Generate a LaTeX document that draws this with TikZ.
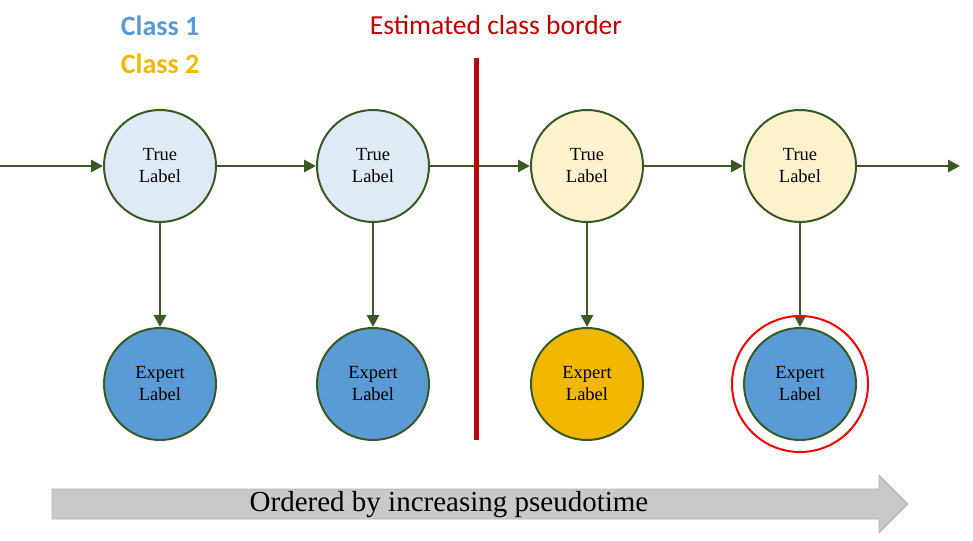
\documentclass[tikz,border=0pt]{standalone}
\usepackage{fontspec}
\setmainfont{Liberation Serif}
\newfontfamily\calibri{Carlito}
\usetikzlibrary{arrows.meta}
\definecolor{linkgreen}{HTML}{3A5A25}
\definecolor{lightblue}{HTML}{DEEBF7}
\definecolor{lightyellow}{HTML}{FFF2CC}
\definecolor{classblue}{HTML}{5B9BD5}
\definecolor{classyellow}{HTML}{F2B800}
\definecolor{borderred}{HTML}{C00000}
\tikzset{
  labelnode/.style={circle, draw=linkgreen, line width=2pt, minimum size=112pt, inner sep=0pt, align=center, font=\fontsize{18.5}{22}\selectfont},
  link/.style={->, draw=linkgreen, line width=2.8pt},
}
\begin{document}
\begin{tikzpicture}[x=1pt, y=-1pt, line join=round, >={Triangle[length=12pt,width=12pt]}]
			\useasboundingbox (0,0) rectangle (973,540);
			% legend and border label
			\node[font=\calibri\bfseries\fontsize{28}{30}\selectfont, text=classblue] (class1) at (160,26) {Class 1};
			\node[font=\calibri\bfseries\fontsize{28}{30}\selectfont, text=classyellow] (class2) at (160,64) {Class 2};
			\node[font=\calibri\fontsize{27.5}{30}\selectfont, text=borderred] (borderlbl) at (496,25) {Estimated class border};
			% true and expert labels
			\foreach \i/\x/\tcol/\ecol in {1/160/lightblue/classblue, 2/373/lightblue/classblue, 3/587/lightyellow/classyellow, 4/800/lightyellow/classblue} {
				\node[labelnode, fill=\tcol] (t\i) at (\x,166) {True\\Label};
				\node[labelnode, fill=\ecol] (e\i) at (\x,384) {Expert\\Label};
				\draw[link] (t\i) -- (e\i);
			}
			\coordinate (start) at (0,166);
			\coordinate (end) at (960,166);
			\draw[link] (start) -- (t1);
			\draw[link] (t1) -- (t2);
			\draw[link] (t2) -- (t3);
			\draw[link] (t3) -- (t4);
			\draw[link] (t4) -- (end);
			% class border and outlier ring
			\draw[borderred, line width=5pt] (476,58) -- (476,440);
			\draw[red, line width=2pt] (e4.center) circle (68pt);
			% pseudotime arrow
			\draw[fill=black!21, draw=black!30, line width=0.8pt] (52,489) -- (879,489) -- (879,475) -- (908,504) -- (879,533) -- (879,519) -- (52,519) -- cycle;
			\node[font=\fontsize{29}{32}\selectfont] (pseudo) at (449,505) {Ordered by increasing pseudotime};
		\end{tikzpicture}
\end{document}
